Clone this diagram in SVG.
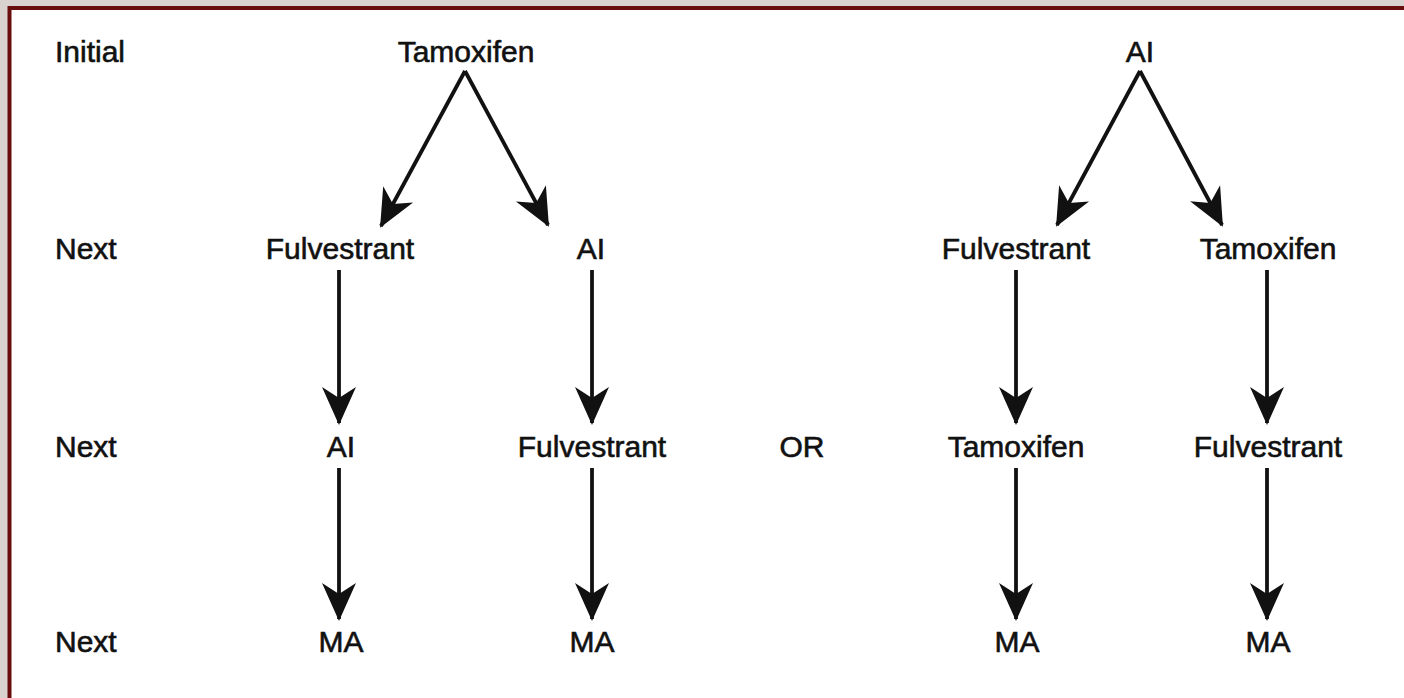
<svg xmlns="http://www.w3.org/2000/svg" width="1404" height="698" viewBox="0 0 1404 698">
<style>
text{font-family:"Liberation Sans",Arial,sans-serif;font-size:30px;fill:#111;stroke:#111;stroke-width:0.6;}
.m{text-anchor:middle;}
.c line{stroke:#111;stroke-width:3.8;fill:none;marker-end:url(#ah);}
</style>
<defs>
<marker id="ah" markerUnits="userSpaceOnUse" markerWidth="44" markerHeight="44" refX="0" refY="0" viewBox="-40 -20 44 40" orient="auto">
<path d="M2,0 L-36,-17 L-25,0 L-36,17 Z" fill="#111"/>
</marker>
</defs>
<rect x="0" y="0" width="1404" height="698" fill="#d9d2cf"/>
<rect x="9.5" y="8" width="1420" height="720" fill="#fff" stroke="#6a0d0d" stroke-width="4"/>
<g id="labels">
<text x="55" y="62">Initial</text>
<text x="55" y="259">Next</text>
<text x="55" y="457">Next</text>
<text x="55" y="652">Next</text>
</g>
<g id="tamoxifen-top"><text class="m" x="466" y="62">Tamoxifen</text></g>
<g id="ai-top"><text class="m" x="1140" y="62">AI</text></g>
<g id="fulv-l2"><text class="m" x="340" y="259">Fulvestrant</text></g>
<g id="ai-l2"><text class="m" x="591" y="259">AI</text></g>
<g id="fulv-r2"><text class="m" x="1016" y="259">Fulvestrant</text></g>
<g id="tam-r2"><text class="m" x="1268" y="259">Tamoxifen</text></g>
<g id="ai-l3"><text class="m" x="341" y="457">AI</text></g>
<g id="fulv-l3"><text class="m" x="592" y="457">Fulvestrant</text></g>
<g id="or"><text class="m" x="802" y="457">OR</text></g>
<g id="tam-r3"><text class="m" x="1016" y="457">Tamoxifen</text></g>
<g id="fulv-r3"><text class="m" x="1268" y="457">Fulvestrant</text></g>
<g id="ma1"><text class="m" x="341" y="652">MA</text></g>
<g id="ma2"><text class="m" x="592" y="652">MA</text></g>
<g id="ma3"><text class="m" x="1017" y="652">MA</text></g>
<g id="ma4"><text class="m" x="1268" y="652">MA</text></g>
<g id="connectors" class="c">
<line x1="465" y1="71" x2="381" y2="226"/>
<line x1="465" y1="71" x2="548" y2="225"/>
<line x1="1140" y1="71" x2="1057" y2="225"/>
<line x1="1140" y1="71" x2="1222" y2="225"/>
<line x1="339" y1="270" x2="339" y2="423"/>
<line x1="592" y1="270" x2="592" y2="423"/>
<line x1="1016" y1="270" x2="1016" y2="423"/>
<line x1="1267" y1="270" x2="1267" y2="423"/>
<line x1="339" y1="468" x2="339" y2="619"/>
<line x1="592" y1="468" x2="592" y2="619"/>
<line x1="1016" y1="468" x2="1016" y2="619"/>
<line x1="1267" y1="468" x2="1267" y2="619"/>
</g>
</svg>
